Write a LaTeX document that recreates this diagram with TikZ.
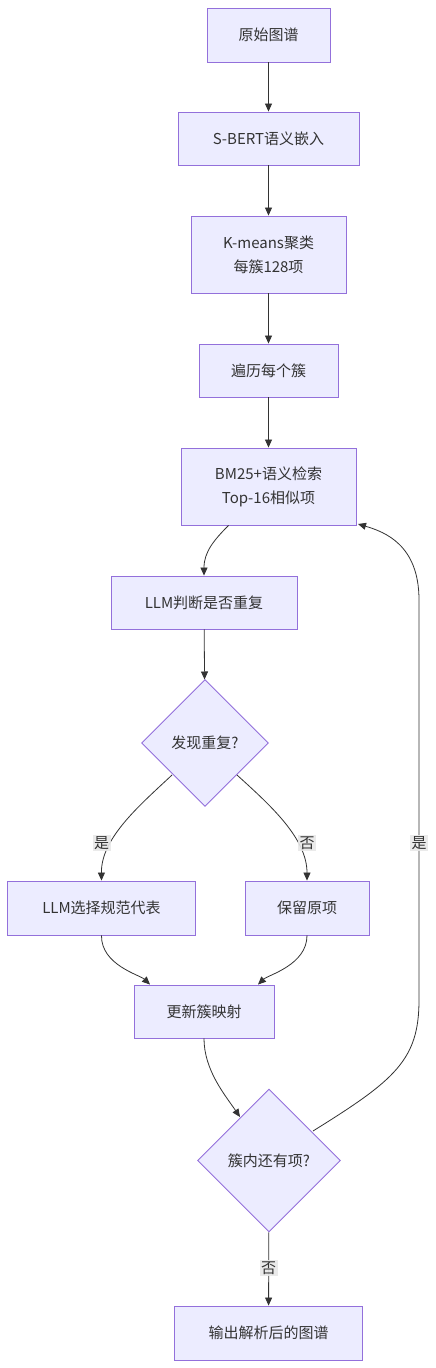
\documentclass[tikz,border=0pt]{standalone}
\usepackage{fontspec}
\setmainfont{Noto Sans CJK SC}
\usetikzlibrary{shapes.geometric,arrows.meta}
\definecolor{boxfill}{HTML}{ECECFF}
\definecolor{boxline}{HTML}{9370DB}
\definecolor{edgecol}{HTML}{333333}
\definecolor{labbg}{HTML}{E8E8E8}
\begin{document}
\begin{tikzpicture}[x=1pt,y=-1pt,
  every node/.style={text=edgecol,font=\fontsize{15pt}{24pt}\selectfont},
  box/.style={draw=boxline,fill=boxfill,line width=0.9pt,inner sep=0pt,align=center},
  dia/.style={draw=boxline,fill=boxfill,line width=0.9pt,diamond,aspect=1,inner sep=0pt},
  conn/.style={draw=edgecol,line width=0.8pt,-{Triangle[length=8pt,width=7pt]}},
  lab/.style={fill=labbg,fill opacity=0.9,text opacity=1,inner sep=1.5pt}
]
\useasboundingbox[fill=white] (0,0) rectangle (436,1368);

\node[box,minimum width=123pt,minimum height=54pt] (n1) at (268.5,35) {原始图谱};
\node[box,minimum width=181pt,minimum height=53pt] (n2) at (268.5,138.5) {S-BERT语义嵌入};
\node[box,minimum width=155pt,minimum height=77pt] (n3) at (268.5,254.5) {K-means聚类\\每簇128项};
\node[box,minimum width=139pt,minimum height=53pt] (n4) at (268.5,370.5) {遍历每个簇};
\node[box,minimum width=175pt,minimum height=77pt] (n5) at (268.5,486.5) {BM25+语义检索\\Top-16相似项};
\node[box,minimum width=186pt,minimum height=53pt] (n6) at (204,602.5) {LLM判断是否重复};
\node[dia,minimum width=127pt,minimum height=127pt] (n7) at (205,743) {发现重复?};
\node[box,minimum width=188pt,minimum height=54pt] (n8) at (101.5,908) {LLM选择规范代表};
\node[box,minimum width=124pt,minimum height=54pt] (n9) at (307,908) {保留原项};
\node[box,minimum width=140pt,minimum height=53pt] (n10) at (204,1011.5) {更新簇映射};
\node[dia,minimum width=143pt,minimum height=143pt] (n11) at (269,1160.5) {簇内还有项?};
\node[box,minimum width=188pt,minimum height=54pt] (n12) at (268.5,1333) {输出解析后的图谱};

\draw[conn] (n1) -- (n2);
\draw[conn] (n2) -- (n3);
\draw[conn] (n3) -- (n4);
\draw[conn] (n4) -- (n5);
\draw[conn] ([xshift=-40pt]n5.south) .. controls (214,540) and (204,552) .. (n6.north);
\draw[conn] (n6) -- (n7);

\coordinate (a7l) at (172,775);
\coordinate (a7r) at (237,775);
\draw[conn] (a7l) .. controls (140,805) and (101,838) .. (n8.north);
\draw[conn] (a7r) .. controls (270,805) and (307,838) .. (n9.north);
\node[lab] (l1) at (101.5,843) {是};
\node[lab] (l2) at (307,843) {否};

\draw[conn] (n8.south) .. controls (101,965) and (140,975) .. ([xshift=-54pt]n10.north);
\draw[conn] (n9.south) .. controls (307,965) and (268,975) .. ([xshift=54pt]n10.north);

\coordinate (a11l) at (240,1117);
\draw[conn] (n10.south) .. controls (204,1070) and (225,1095) .. (a11l);

\coordinate (a11r) at (313,1131);
\coordinate (a5r) at (358,524);
\draw[conn] (a11r) .. controls (395,1080) and (419,1060) .. (419,1000) -- (419,600) .. controls (419,545) and (385,532) .. (a5r);
\node[lab] (l3) at (419,843) {是};

\draw[conn] (n11) -- (n12);
\node[lab] (l4) at (268.5,1268) {否};
\end{tikzpicture}
\end{document}
